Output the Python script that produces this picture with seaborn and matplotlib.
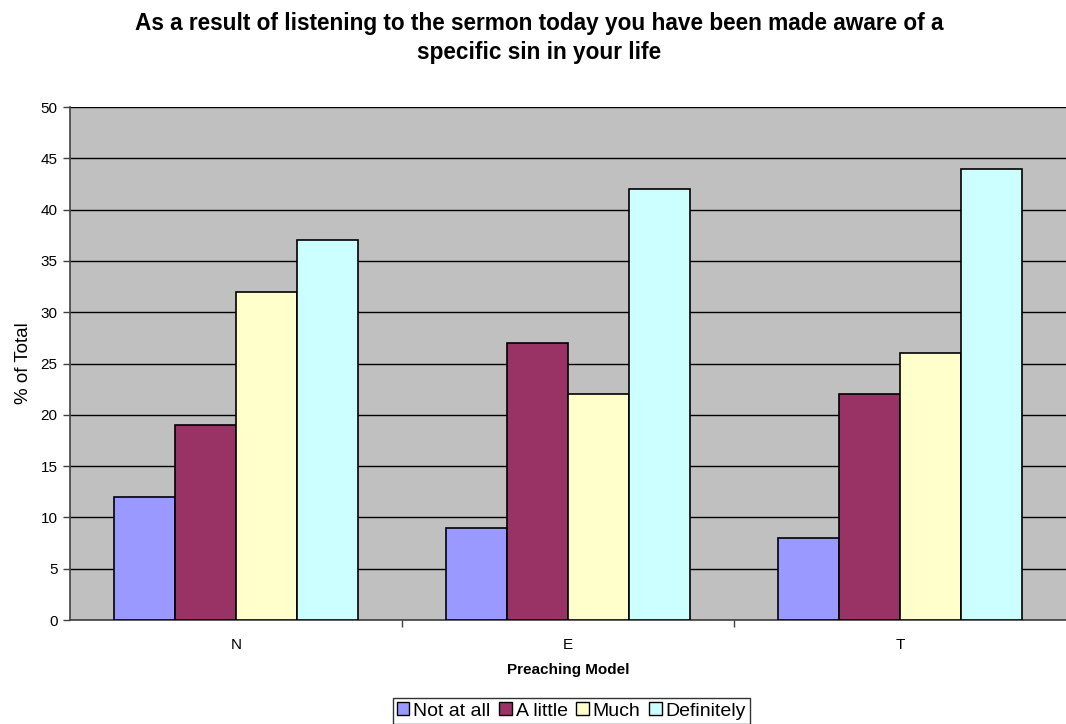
import matplotlib
matplotlib.use("Agg")
import matplotlib.pyplot as plt
import pandas as pd
import seaborn as sns
from matplotlib.patches import Patch

models = ["N", "E", "T"]
responses = ["Not at all", "A little", "Much", "Definitely"]
not_at_all = [12, 9, 8]
a_little = [19, 27, 22]
much = [32, 22, 26]
definitely = [37, 42, 44]
colors = ["#9999FF", "#993366", "#FFFFCC", "#CCFFFF"]

series = [not_at_all, a_little, much, definitely]
df = pd.DataFrame(
    [(m, r, vals[i]) for r, vals in zip(responses, series) for i, m in enumerate(models)],
    columns=["model", "response", "value"],
)

sns.set_theme(style="white")
plt.rcParams["font.family"] = ["Liberation Sans", "DejaVu Sans"]
plt.rcParams.update({
    "text.color": "black", "axes.labelcolor": "black",
    "xtick.color": "black", "ytick.color": "black",
})

fig = plt.figure(figsize=(10.66, 7.24), dpi=100)
ax = fig.add_axes([0.0657, 0.1436, 0.9343, 0.7086])
ax.set_facecolor("#C0C0C0")

sns.barplot(
    data=df, x="model", y="value", hue="response", order=models,
    hue_order=responses, palette=colors, saturation=1, edgecolor="black",
    linewidth=1.2, width=0.735, gap=0, ax=ax, legend=False, zorder=3,
)

ax.set_xlim(-0.5, 2.5)
ax.set_ylim(0, 50)
ax.set_yticks(range(0, 51, 5))
ax.yaxis.grid(True, color="black", linewidth=1.0, zorder=1)
ax.set_axisbelow(True)

for side in ["top", "right"]:
    ax.spines[side].set_visible(False)
for side in ["left", "bottom"]:
    ax.spines[side].set_color("#404040")
    ax.spines[side].set_linewidth(1.2)

ax.tick_params(axis="y", which="major", direction="out", length=5, width=1,
               color="#404040", labelsize=11, pad=4, left=True)
ax.tick_params(axis="x", which="major", length=0, labelsize=11, pad=13)
ax.set_xticks([0.5, 1.5], minor=True)
ax.tick_params(axis="x", which="minor", direction="out", length=5, width=1,
               color="#404040", bottom=True)

ax.set_xlabel("Preaching Model", fontsize=11, fontweight="bold", labelpad=8)
ax.set_ylabel("% of Total", fontsize=13.5, labelpad=6)

fig.suptitle(
    "As a result of listening to the sermon today you have been made aware of a\nspecific sin in your life",
    fontsize=16.3, fontweight="bold", y=0.984, x=0.506, va="top", linespacing=1.33,
)

handles = [Patch(facecolor=c, edgecolor="black", linewidth=1) for c in colors]
leg = fig.legend(
    handles, responses, loc="center", bbox_to_anchor=(0.536, 0.018),
    ncol=4, frameon=True, fontsize=14, handlelength=0.65, handleheight=0.65,
    handletextpad=0.2, columnspacing=0.45, borderpad=0.2, fancybox=False,
    borderaxespad=0,
)
leg.get_frame().set_edgecolor("black")
leg.get_frame().set_linewidth(1)

fig.savefig("out.png", dpi=100)
